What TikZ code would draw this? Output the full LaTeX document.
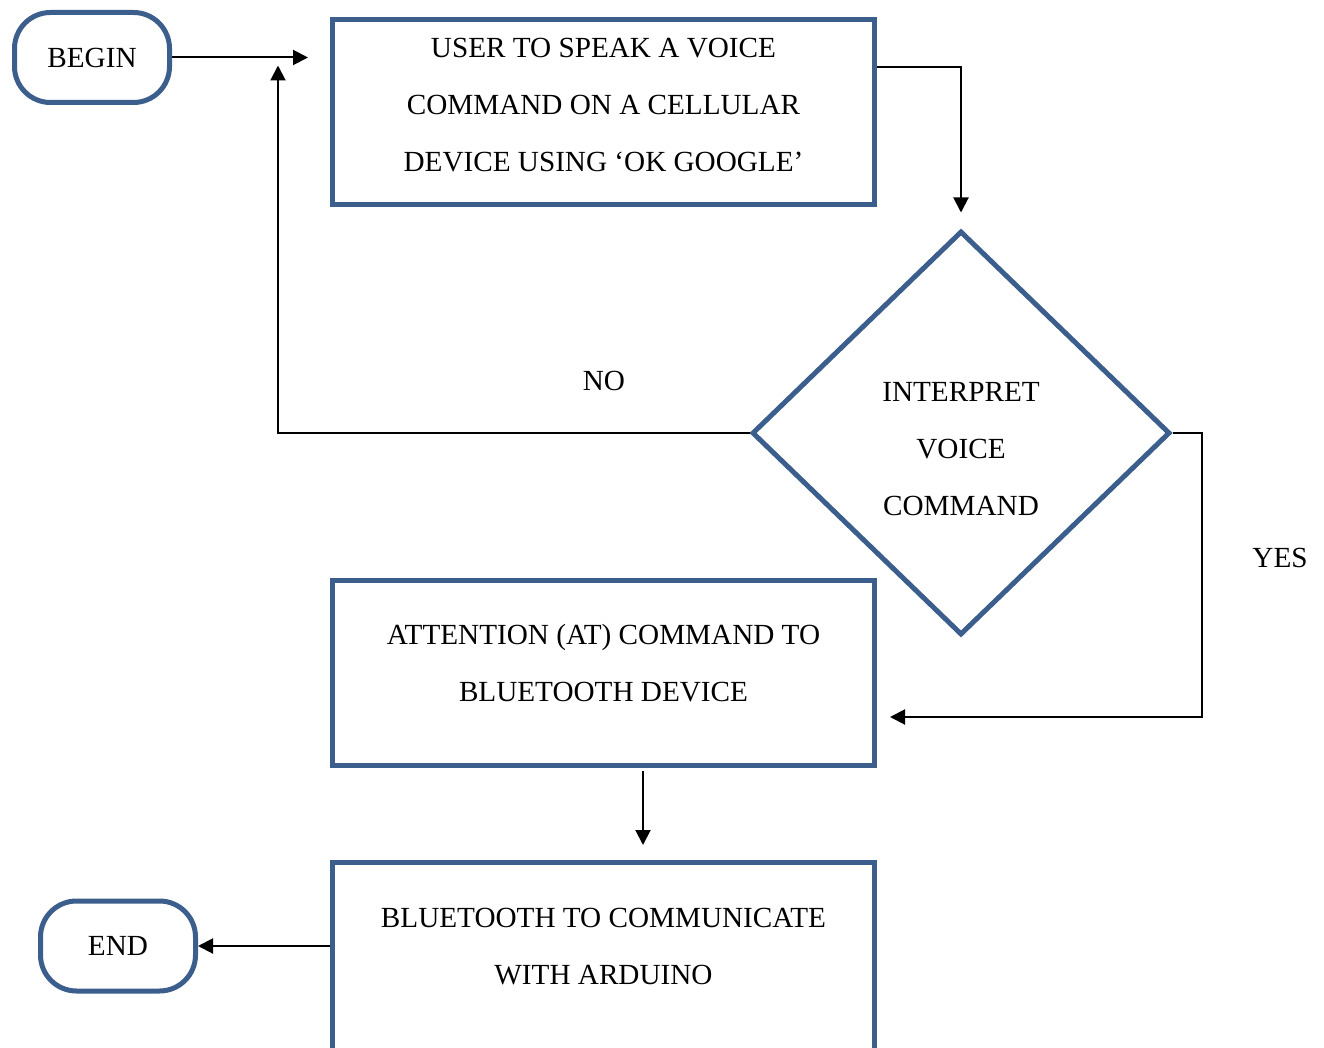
\documentclass[tikz,border=0pt]{standalone}
\usepackage{fontspec}
\setmainfont{Liberation Serif}
\usetikzlibrary{shapes.geometric,arrows.meta}
\definecolor{flowblue}{RGB}{59,94,140}
\begin{document}
\begin{tikzpicture}[x=0.5pt,y=-0.5pt,
  txt/.style={font=\fontsize{14.6}{28.5}\selectfont, align=center, inner sep=0pt},
  terminal/.style={draw=flowblue, line width=2.5pt, rounded corners=18pt,
    minimum width=77.5pt, minimum height=45pt, inner sep=0pt,
    font=\fontsize{14.6}{17}\selectfont},
  procbox/.style={draw=flowblue, line width=2.5pt, minimum width=271pt,
    minimum height=92.5pt, inner sep=0pt},
  decision/.style={draw=flowblue, line width=2.5pt, diamond, inner sep=0pt,
    minimum width=209pt, minimum height=202pt},
  flow/.style={line width=1pt, -{Triangle[length=7.5pt,width=7.5pt]}}
]
\useasboundingbox (0,0) rectangle (1324,1048);

% shapes
\node[terminal] (begin) at (92,57.5) {BEGIN};
\node[procbox] (speak) at (603.5,112) {};
\node[decision] (interp) at (961,433) {};
\node[procbox] (atcmd) at (603.5,673) {};
\node[procbox, minimum height=97pt] (btcomm) at (603.5,959.5) {};
\node[terminal] (endn) at (118,946) {END};

% box texts
\node[txt] (speaktxt) at ([yshift=3.5pt]speak.center)
  {USER TO SPEAK A VOICE\\COMMAND ON A CELLULAR\\DEVICE USING ‘OK GOOGLE’};
\node[txt] (interptxt) at ([yshift=-8pt]interp.center)
  {INTERPRET\\VOICE\\COMMAND};
\node[txt] (attxt) at ([yshift=5pt]atcmd.center)
  {ATTENTION (AT) COMMAND TO\\BLUETOOTH DEVICE};
\node[txt] (bttxt) at ([yshift=6.5pt]btcomm.center)
  {BLUETOOTH TO COMMUNICATE\\WITH ARDUINO};

% branch labels
\node[txt] (nolbl) at (604,381) {NO};
\node[txt] (yeslbl) at (1280,558) {YES};

% corner points of the loop-back and yes branches
\coordinate (nocorner) at (278,433);
\coordinate (yescorner) at (1202,433);

% connectors
\draw[flow, shorten >=11pt] (begin.east) -- (begin.east -| speak.west);
\draw[flow, shorten >=8pt] ([yshift=22.5pt]speak.east) -| (interp.north);
\draw[flow, shorten >=4pt] (interp.west) -- (nocorner) -- (nocorner |- begin.east);
\draw[flow, shorten >=6.5pt] (interp.east) -- (yescorner) |- ([yshift=-22pt]atcmd.east);
\draw[flow, shorten <=1.5pt, shorten >=7.5pt] ([xshift=19.75pt]atcmd.south) -- ([xshift=19.75pt]btcomm.north);
\draw[flow] (endn.east -| btcomm.west) -- (endn.east);
\end{tikzpicture}
\end{document}
